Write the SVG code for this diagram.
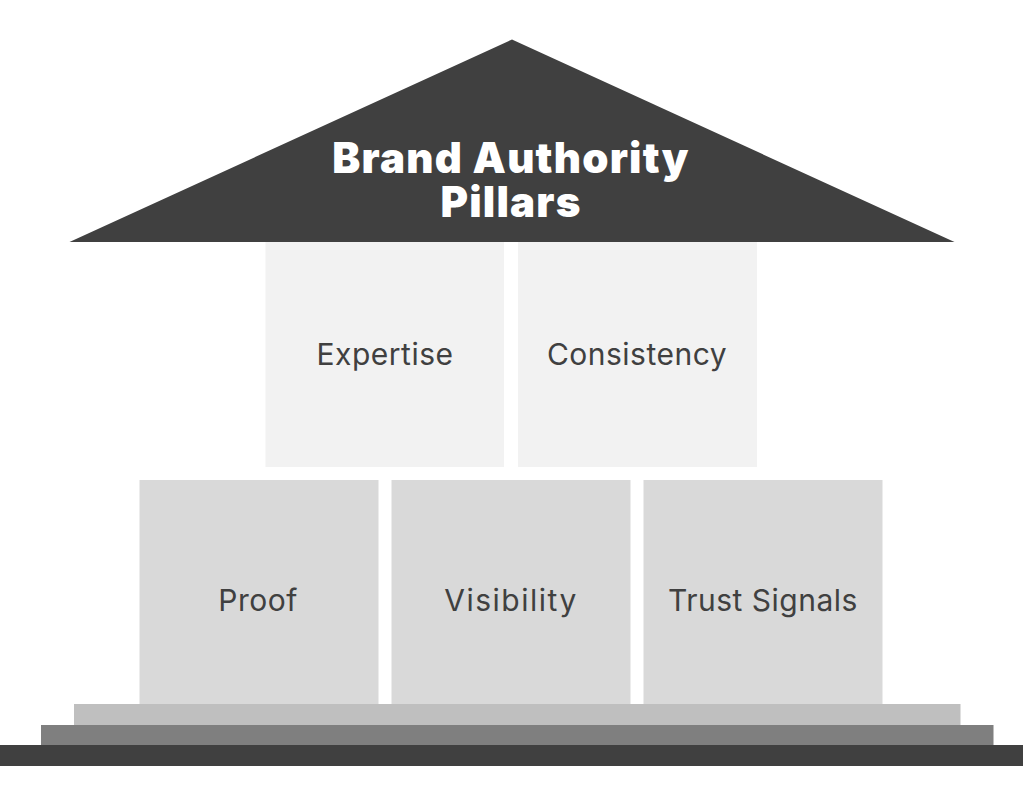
<svg xmlns="http://www.w3.org/2000/svg" width="1024" height="808" viewBox="0 0 1024 808">
<style>
.l{font-family:"Inter","Noto Sans",sans-serif;font-size:30px;fill:#404040;text-anchor:middle;letter-spacing:.5px}
.t{font-family:"Inter","Noto Sans",sans-serif;font-size:42px;font-weight:900;fill:#fff;text-anchor:middle;letter-spacing:1.2px}
.u{fill:#f2f2f2}.d{fill:#d9d9d9}
</style>
<rect width="1024" height="808" fill="#fff"/>
<g id="roof"><polygon points="512,39.5 954.5,242 69.5,242" fill="#404040"/>
<text class="t" x="511" y="173">Brand Authority</text><text class="t" x="511" y="217">Pillars</text></g>
<g id="expertise"><rect class="u" x="265.5" y="242" width="238.5" height="225"/><text class="l" x="385" y="365">Expertise</text></g>
<g id="consistency"><rect class="u" x="518" y="242" width="239" height="225"/><text class="l" x="637" y="365">Consistency</text></g>
<g id="proof"><rect class="d" x="139.5" y="480" width="239" height="225"/><text class="l" x="258" y="611">Proof</text></g>
<g id="visibility"><rect class="d" x="391.5" y="480" width="239" height="225"/><text class="l" x="511" y="611" style="letter-spacing:1.5px">Visibility</text></g>
<g id="trust"><rect class="d" x="643.5" y="480" width="239" height="225"/><text class="l" x="763" y="611">Trust Signals</text></g>
<g id="step1"><rect x="74" y="704" width="886.5" height="21" fill="#bfbfbf"/></g>
<g id="step2"><rect x="41" y="725" width="952.5" height="20" fill="#7f7f7f"/></g>
<g id="step3"><rect x="0" y="745" width="1023" height="21" fill="#404040"/></g>
</svg>
